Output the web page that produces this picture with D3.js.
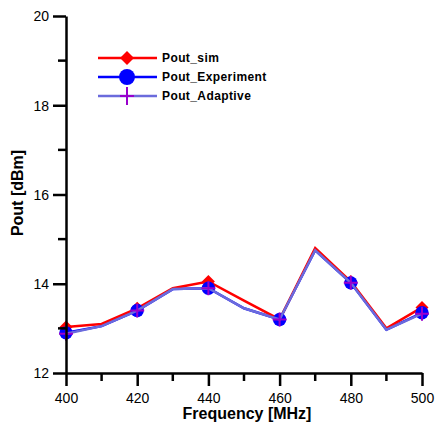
<!DOCTYPE html>
<html>
<head>
<meta charset="utf-8">
<script src="https://cdn.jsdelivr.net/npm/d3@7"></script>
<style>
body{margin:0;background:#fff}
text{font-family:"Liberation Sans",Arial,sans-serif}
</style>
</head>
<body>
<script>
// data
var freq = [400, 410, 420, 430, 440, 450, 460, 470, 480, 490, 500];
var poutSim = [13.03, 13.1, 13.45, 13.9, 14.05, 13.62, 13.2, 14.8, 14.05, 13.0, 13.47];
var poutExp = [12.9, 13.05, 13.4, 13.88, 13.9, 13.45, 13.2, 14.75, 14.02, 12.97, 13.35];
var poutAdapt = [12.88, 13.05, 13.4, 13.88, 13.9, 13.45, 13.2, 14.75, 14.02, 12.97, 13.33];
var markerFreq = [400, 420, 440, 460, 480, 500];
var seriesNames = ["Pout_sim", "Pout_Experiment", "Pout_Adaptive"];
var xTicks = [400, 420, 440, 460, 480, 500];
var yTicks = [12, 14, 16, 18, 20];

var W = 435, H = 425;
var svg = d3.select("body").append("svg").attr("width", W).attr("height", H);

var x = d3.scaleLinear().domain([400, 500]).range([66, 422]);
var y = d3.scaleLinear().domain([12, 20]).range([373, 16]);

var line = d3.line().x(function(d){return x(d[0]);}).y(function(d){return y(d[1]);});
function pairs(vals){ return freq.map(function(f, i){ return [f, vals[i]]; }); }
function marked(vals){ return pairs(vals).filter(function(d){ return markerFreq.indexOf(d[0]) >= 0; }); }

function diamondPath(r){ return "M0," + (-r) + "L" + r + ",0L0," + r + "L" + (-r) + ",0Z"; }
var circle = d3.symbol().type(d3.symbolCircle);

// series: experiment, sim, adaptive
svg.append("path").datum(pairs(poutExp)).attr("d", line)
    .attr("fill", "none").attr("stroke", "#0000ff").attr("stroke-width", 2.5);
svg.append("path").datum(pairs(poutSim)).attr("d", line)
    .attr("fill", "none").attr("stroke", "#ff0000").attr("stroke-width", 2.5);
svg.selectAll(".dsim").data(marked(poutSim)).enter().append("path")
    .attr("d", diamondPath(6.5)).attr("fill", "#ff0000")
    .attr("transform", function(d){return "translate(" + x(d[0]) + "," + y(d[1]) + ")";});
svg.selectAll(".dexp").data(marked(poutExp)).enter().append("path")
    .attr("d", circle.size(140)).attr("fill", "#0000ff")
    .attr("transform", function(d){return "translate(" + x(d[0]) + "," + y(d[1]) + ")";});
svg.append("path").datum(pairs(poutAdapt)).attr("d", line)
    .attr("fill", "none").attr("stroke", "#6b6bdc").attr("stroke-width", 2.5);
svg.selectAll(".dad").data(marked(poutAdapt)).enter().append("path")
    .attr("d", function(d){ var cx = x(d[0]), cy = y(d[1]);
        return "M" + (cx - 7) + "," + cy + "H" + (cx + 7) + "M" + cx + "," + (cy - 7) + "V" + (cy + 7); })
    .attr("stroke", "#9900cc").attr("stroke-width", 2);

// axes
var xAxis = d3.axisBottom(x).tickValues(xTicks).tickSize(13).tickSizeOuter(0).tickPadding(5);
var yAxis = d3.axisLeft(y).tickValues(yTicks).tickSize(13).tickSizeOuter(0).tickPadding(4);

var gx = svg.append("g").attr("transform", "translate(0,373)").call(xAxis);
var gy = svg.append("g").attr("transform", "translate(66,0)").call(yAxis);

// minor ticks
gx.selectAll(".minor").data(d3.range(410, 500, 20)).enter().append("line")
    .attr("x1", function(d){return x(d);}).attr("x2", function(d){return x(d);})
    .attr("y1", 0).attr("y2", 8).attr("stroke", "#000").attr("stroke-width", 2.5);
gy.selectAll(".minor").data(d3.range(13, 20, 2)).enter().append("line")
    .attr("y1", function(d){return y(d);}).attr("y2", function(d){return y(d);})
    .attr("x1", 0).attr("x2", -8).attr("stroke", "#000").attr("stroke-width", 2.5);

[gx, gy].forEach(function(g){
    g.select(".domain").attr("stroke", "#000").attr("stroke-width", 2.5);
    g.selectAll(".tick line").attr("stroke", "#000").attr("stroke-width", 2.5);
    g.selectAll(".tick text").attr("fill", "#000").style("font-size", "14px")
        .style("font-family", "'Liberation Sans',Arial,sans-serif");
});
gx.selectAll(".tick text").attr("dy", "0.85em");
gy.selectAll(".tick text").attr("dy", "0.35em");

svg.append("text").attr("x", 247).attr("y", 419).attr("text-anchor", "middle")
    .style("font-size", "16px").style("font-weight", "bold").text("Frequency [MHz]");
svg.append("text").attr("transform", "translate(23,193) rotate(-90)").attr("text-anchor", "middle")
    .style("font-size", "16px").style("font-weight", "bold").text("Pout [dBm]");

// legend
var legColors = ["#ff0000", "#0000ff", "#6b6bdc"];
var lg = svg.append("g");
seriesNames.forEach(function(name, i){
    var ly = 58 + i * 19;
    lg.append("line").attr("x1", 98).attr("x2", 157).attr("y1", ly).attr("y2", ly)
        .attr("stroke", legColors[i]).attr("stroke-width", 2.5);
    if (i === 0) lg.append("path").attr("d", diamondPath(7)).attr("fill", "#ff0000")
        .attr("transform", "translate(127," + ly + ")");
    if (i === 1) lg.append("path").attr("d", circle.size(200)).attr("fill", "#0000ff")
        .attr("transform", "translate(127," + ly + ")");
    if (i === 2) lg.append("path").attr("d", "M120," + ly + "H134M127," + (ly - 9) + "V" + (ly + 9))
        .attr("stroke", "#9900cc").attr("stroke-width", 2);
    lg.append("text").attr("x", 162).attr("y", ly).attr("dy", "0.35em")
        .style("font-size", "12px").style("font-weight", "bold").style("letter-spacing", "0.4px").text(name);
});
</script>
</body>
</html>
